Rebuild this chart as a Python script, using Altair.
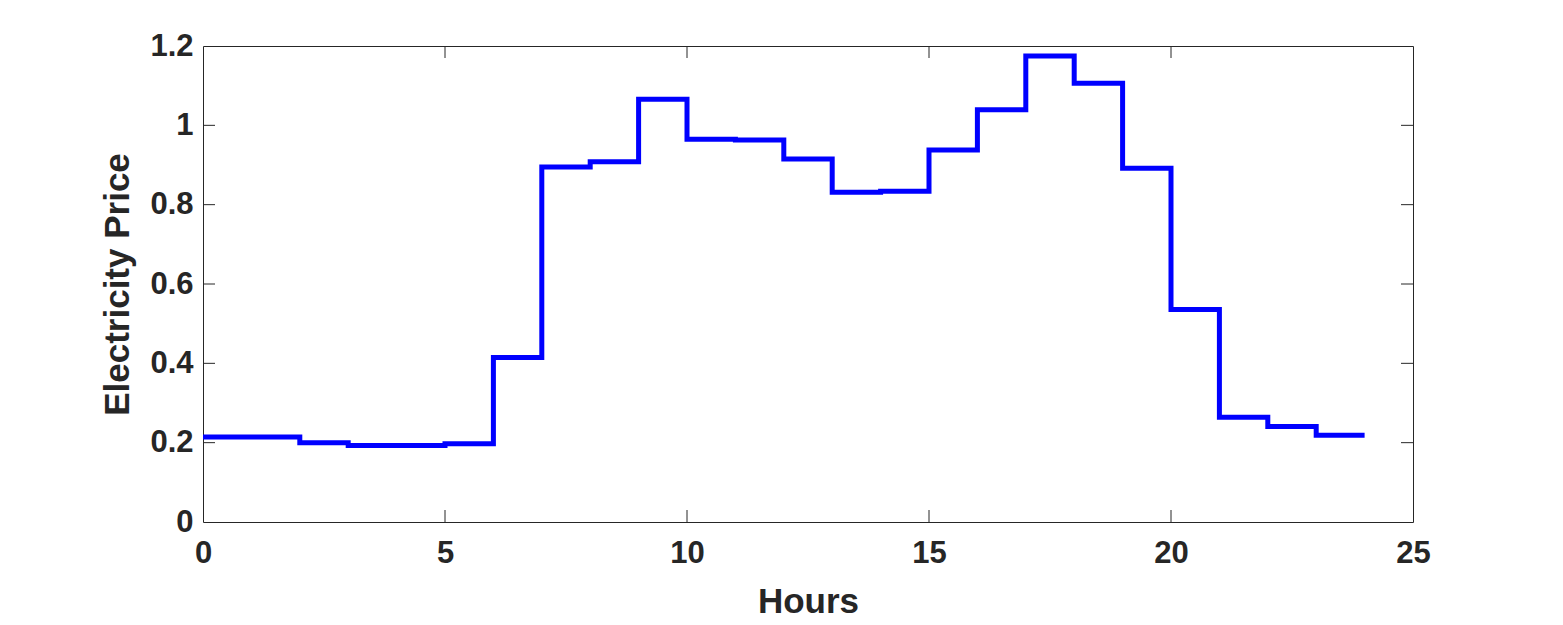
import altair as alt
import pandas as pd

hours = list(range(25))
prices = [0.214, 0.214, 0.200, 0.193, 0.193, 0.197, 0.415, 0.895, 0.908, 1.066,
          0.965, 0.963, 0.915, 0.831, 0.834, 0.938, 1.039, 1.175, 1.106, 0.892,
          0.536, 0.264, 0.241, 0.219, 0.219]
x_ticks = [5, 10, 15, 20]
y_ticks = [0.2, 0.4, 0.6, 0.8, 1.0]

W, H = 1210, 476
AX = "#262626"
FONT = "Liberation Sans"

df = pd.DataFrame({"Hours": hours, "Price": prices})
xt = pd.DataFrame({"t": x_ticks})
yt = pd.DataFrame({"t": y_ticks})

xs = alt.Scale(domain=[0, 25], nice=False)
ys = alt.Scale(domain=[0, 1.2], nice=False)

line = alt.Chart(df).mark_line(interpolate="step-after", color="#0000FF", strokeWidth=5).encode(
    x=alt.X("Hours:Q", scale=xs, title="Hours",
            axis=alt.Axis(values=[0, 5, 10, 15, 20, 25], ticks=False, domain=False, grid=False,
                          labelFlush=False, labelPadding=16, titlePadding=16)),
    y=alt.Y("Price:Q", scale=ys, title="Electricity Price",
            axis=alt.Axis(values=[0, 0.2, 0.4, 0.6, 0.8, 1.0, 1.2], format="~g", ticks=False,
                          domain=False, grid=False, labelPadding=10, titlePadding=14)),
)

tick_style = dict(color=AX, strokeWidth=1)
left = alt.Chart(yt).mark_rule(**tick_style).encode(
    y=alt.Y("t:Q", scale=ys), x=alt.value(0), x2=alt.value(12))
right = alt.Chart(yt).mark_rule(**tick_style).encode(
    y=alt.Y("t:Q", scale=ys), x=alt.value(W), x2=alt.value(W - 12))
bottom = alt.Chart(xt).mark_rule(**tick_style).encode(
    x=alt.X("t:Q", scale=xs), y=alt.value(H), y2=alt.value(H - 12))
top = alt.Chart(xt).mark_rule(**tick_style).encode(
    x=alt.X("t:Q", scale=xs), y=alt.value(0), y2=alt.value(12))

chart = alt.layer(line, left, right, bottom, top).properties(
    width=W, height=H,
    autosize=alt.AutoSizeParams(type="none"),
    padding={"left": 195, "top": 38, "right": 140, "bottom": 102},
).configure_view(
    stroke=AX, strokeWidth=1
).configure_axis(
    labelFont=FONT, titleFont=FONT, labelFontSize=31, titleFontSize=35,
    labelFontWeight="bold", titleFontWeight="bold", labelColor=AX, titleColor=AX,
)

chart.save("out.html", embed_options={"renderer": "svg", "actions": False})
